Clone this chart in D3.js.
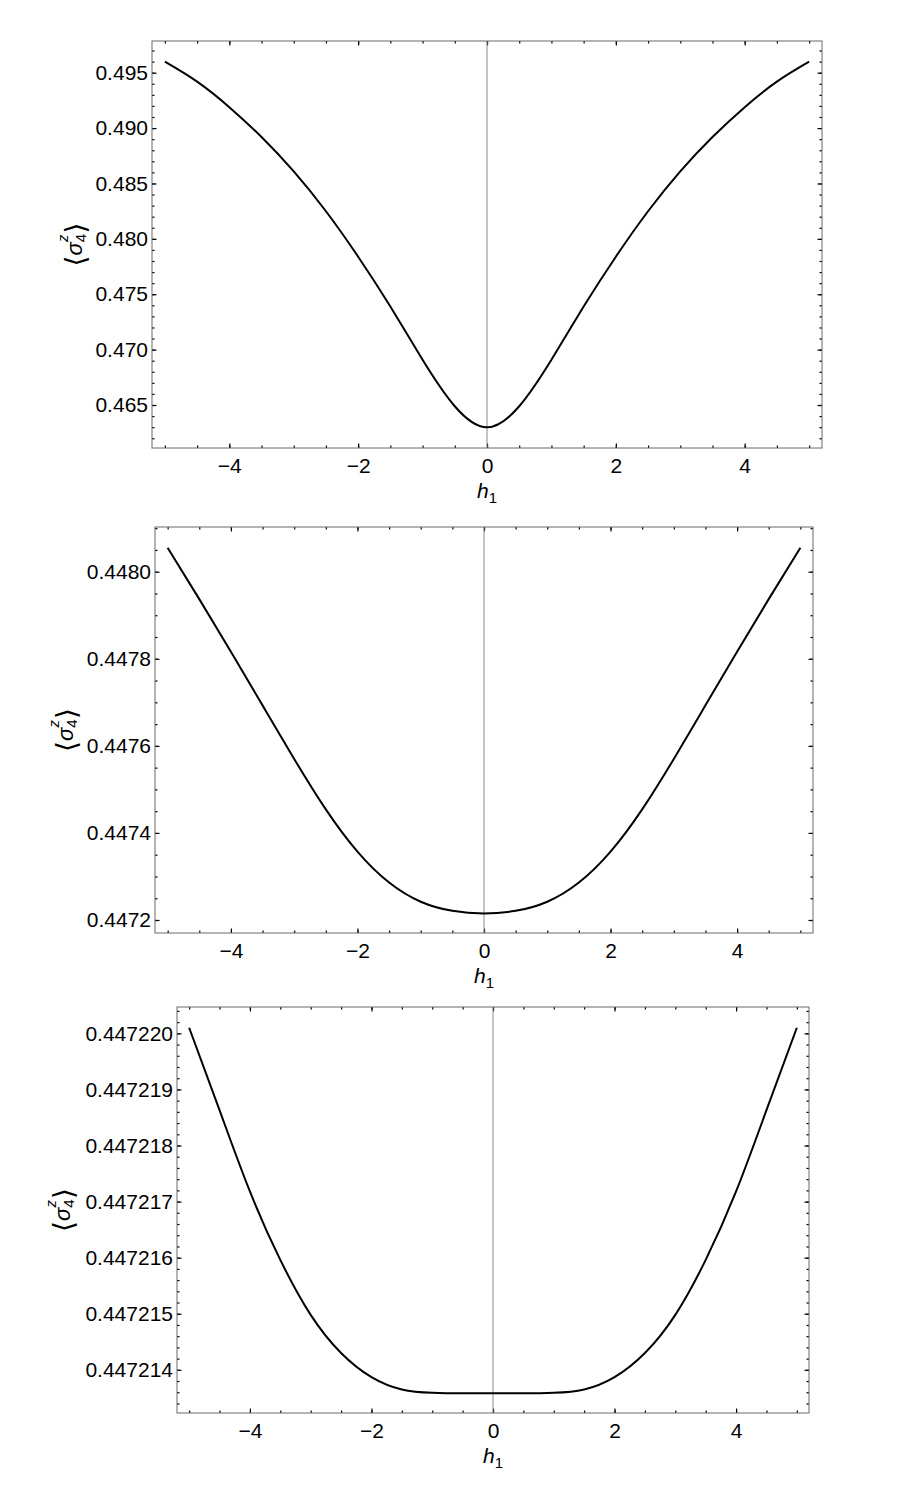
<!DOCTYPE html>
<html>
<head>
<meta charset="utf-8">
<script src="https://cdn.jsdelivr.net/npm/d3@7"></script>
<style>
  html, body { margin: 0; padding: 0; background: #fff; }
  svg { display: block; }
  text { font-family: "Liberation Sans", Arial, sans-serif; fill: #000; }
</style>
</head>
<body>
<svg id="chart" width="900" height="1500"></svg>
<script>
// ---- data ----
const hValues = [-5, -4.5, -4, -3.5, -3, -2.5, -2, -1.5, -1, -0.5, 0,
                  0.5, 1, 1.5, 2, 2.5, 3, 3.5, 4, 4.5, 5];

const sigmaPanel1 = [0.49599, 0.49419, 0.49189, 0.48919, 0.48609, 0.48249, 0.47839, 0.47389, 0.46909, 0.46489, 0.46299,
                     0.46489, 0.46909, 0.47389, 0.47839, 0.48249, 0.48609, 0.48919, 0.49189, 0.49419, 0.49599];

const sigmaPanel2 = [0.448055, 0.447937, 0.447816, 0.447693, 0.447570, 0.447454, 0.447357, 0.447286, 0.447242, 0.447221, 0.447215,
                     0.447221, 0.447242, 0.447286, 0.447357, 0.447454, 0.447570, 0.447693, 0.447816, 0.447937, 0.448055];

const sigmaPanel3 = [0.4472201, 0.44721863, 0.44721718, 0.44721596, 0.44721498, 0.44721430, 0.44721387, 0.44721365, 0.44721359, 0.44721358, 0.44721358,
                     0.44721358, 0.44721359, 0.44721365, 0.44721387, 0.44721430, 0.44721498, 0.44721596, 0.44721718, 0.44721863, 0.4472201];

const xTickLabels = [-4, -2, 0, 2, 4];
const yTicksPanel1 = [0.465, 0.470, 0.475, 0.480, 0.485, 0.490, 0.495];
const yTicksPanel2 = [0.4472, 0.4474, 0.4476, 0.4478, 0.4480];
const yTicksPanel3 = [0.447214, 0.447215, 0.447216, 0.447217, 0.447218, 0.447219, 0.447220];

// ---- layout ----
const panels = [
  { values: sigmaPanel1, yTicks: yTicksPanel1, fmt: ".3f", minorStep: 0.001,
    yDomain: [0.461119, 0.497861], box: { l: 152, r: 822, t: 41, b: 448 }, yLabelX: 82 },
  { values: sigmaPanel2, yTicks: yTicksPanel2, fmt: ".4f", minorStep: 0.00005,
    yDomain: [0.44717014, 0.4481027], box: { l: 155, r: 813, t: 527, b: 933 }, yLabelX: 73 },
  { values: sigmaPanel3, yTicks: yTicksPanel3, fmt: ".6f", minorStep: 0.0000002,
    yDomain: [0.44721323, 0.44722047], box: { l: 177, r: 809, t: 1007, b: 1413 }, yLabelX: 70 }
];

const svg = d3.select("#chart");
const FRAME = "#6b6b6b";
const MAJ = 4.5, MIN = 2.5;
const FS = "21px";

function minorTicks(domain, step) {
  const start = Math.ceil(domain[0] / step - 1e-9);
  const end = Math.floor(domain[1] / step + 1e-9);
  return d3.range(start, end + 1).map(i => +(i * step).toPrecision(12));
}

panels.forEach(p => {
  const { l, r, t, b } = p.box;
  const x = d3.scaleLinear().domain([-5.2, 5.2]).range([l, r]);
  const y = d3.scaleLinear().domain(p.yDomain).range([b, t]);
  const g = svg.append("g");

  const xMinor = minorTicks([-5.2, 5.2], 0.5);
  const yMinor = minorTicks(p.yDomain, p.minorStep);

  function styleAxis(sel) {
    sel.select(".domain").remove();
    sel.selectAll(".tick line").attr("stroke", "#000").attr("stroke-width", 1.2);
    sel.selectAll("text").style("font-size", FS).style("font-family", "'Liberation Sans', Arial, sans-serif");
  }

  // minor ticks (inward) on all sides
  g.append("g").attr("transform", `translate(0,${b})`)
    .call(d3.axisBottom(x).tickValues(xMinor).tickSize(-MIN).tickFormat("")).call(styleAxis);
  g.append("g").attr("transform", `translate(0,${t})`)
    .call(d3.axisTop(x).tickValues(xMinor).tickSize(-MIN).tickFormat("")).call(styleAxis);
  g.append("g").attr("transform", `translate(${l},0)`)
    .call(d3.axisLeft(y).tickValues(yMinor).tickSize(-MIN).tickFormat("")).call(styleAxis);
  g.append("g").attr("transform", `translate(${r},0)`)
    .call(d3.axisRight(y).tickValues(yMinor).tickSize(-MIN).tickFormat("")).call(styleAxis);

  // major ticks with labels
  g.append("g").attr("transform", `translate(0,${b})`)
    .call(d3.axisBottom(x).tickValues(xTickLabels).tickSize(-MAJ).tickPadding(10).tickFormat(d3.format("d"))).call(styleAxis);
  g.append("g").attr("transform", `translate(0,${t})`)
    .call(d3.axisTop(x).tickValues(xTickLabels).tickSize(-MAJ).tickFormat("")).call(styleAxis);
  g.append("g").attr("transform", `translate(${l},0)`)
    .call(d3.axisLeft(y).tickValues(p.yTicks).tickSize(-MAJ).tickPadding(4).tickFormat(d3.format(p.fmt))).call(styleAxis);
  g.append("g").attr("transform", `translate(${r},0)`)
    .call(d3.axisRight(y).tickValues(p.yTicks).tickSize(-MAJ).tickFormat("")).call(styleAxis);

  // vertical axis at h1 = 0
  g.append("line")
    .attr("x1", x(0)).attr("x2", x(0)).attr("y1", t).attr("y2", b)
    .attr("stroke", "#8c8c8c").attr("stroke-width", 1);

  // frame
  g.append("rect")
    .attr("x", l).attr("y", t).attr("width", r - l).attr("height", b - t)
    .attr("fill", "none").attr("stroke", FRAME).attr("stroke-width", 1);

  // curve
  const line = d3.line()
    .x((d, i) => x(hValues[i]))
    .y(d => y(d))
    .curve(d3.curveNatural);
  g.append("path")
    .datum(p.values)
    .attr("d", line)
    .attr("fill", "none")
    .attr("stroke", "#000")
    .attr("stroke-width", 2);

  // x label h1
  const xl = g.append("text")
    .attr("x", x(0)).attr("y", b + 50)
    .attr("text-anchor", "middle")
    .style("font-size", FS);
  xl.append("tspan").style("font-style", "italic").text("h");
  xl.append("tspan").attr("dy", 5).style("font-size", "15px").text("1");

  // y label <sigma_4^z>
  const cy = (t + b) / 2;
  const yl = g.append("text")
    .attr("transform", `translate(${p.yLabelX},${cy}) rotate(-90)`)
    .attr("text-anchor", "middle")
    .style("font-size", "22px");
  yl.append("tspan").style("font-family", "'DejaVu Sans', sans-serif").style("font-size", "28px").attr("dy", 3).text("\u27E8");
  yl.append("tspan").style("font-style", "italic").attr("dy", -3).text("\u03C3");
  yl.append("tspan").style("font-size", "15px").attr("dy", 4).text("4");
  yl.append("tspan").style("font-size", "15px").style("font-style", "italic").attr("dx", -8).attr("dy", -18).text("z");
  yl.append("tspan").style("font-family", "'DejaVu Sans', sans-serif").style("font-size", "28px").attr("dx", 1).attr("dy", 17).text("\u27E9");
});
</script>
</body>
</html>
